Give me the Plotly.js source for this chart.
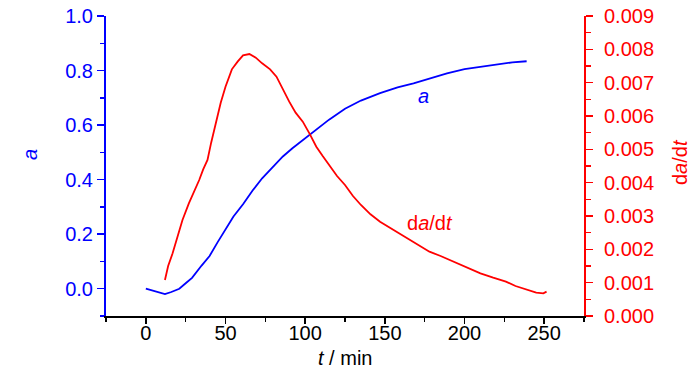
<!DOCTYPE html>
<html>
<head>
<meta charset="utf-8">
<script src="https://cdn.plot.ly/plotly-3.0.1.min.js"></script>
<style>
html,body{margin:0;padding:0;background:#fff;}
#chart{width:700px;height:374px;}
</style>
</head>
<body>
<div id="chart"></div>
<script>
// Conversion a vs time
var tA = [0, 5, 12, 16, 21, 25, 29, 35, 40, 45, 50, 55, 61, 67, 73, 80, 86, 92, 98.5, 105, 115, 125, 135, 147, 158, 168, 178, 189, 200, 210, 220, 230, 239];
var aVals = [0.0, -0.008, -0.02, -0.012, 0.0, 0.02, 0.04, 0.085, 0.12, 0.17, 0.22, 0.265, 0.31, 0.36, 0.405, 0.45, 0.485, 0.515, 0.545, 0.575, 0.62, 0.66, 0.69, 0.717, 0.738, 0.753, 0.772, 0.79, 0.805, 0.814, 0.822, 0.83, 0.834];

// Rate da/dt vs time
var tR = [12, 14, 16.8, 20, 23, 27, 30, 33.5, 36, 38.7, 41, 44, 47, 50, 54, 57.6, 61, 65, 69, 73, 78, 82, 86, 90, 94, 98.5, 103, 107, 111, 115, 120, 125, 130, 135, 141, 147, 155, 163.5, 170, 178, 185, 191, 200, 210, 218, 226, 232, 239, 245, 249.5, 251.5];
var rVals = [0.00108, 0.0015, 0.00188, 0.0024, 0.00288, 0.00338, 0.0037, 0.00408, 0.0044, 0.00468, 0.0052, 0.00578, 0.0064, 0.00688, 0.0074, 0.00763, 0.00782, 0.00786, 0.00775, 0.00758, 0.0074, 0.00718, 0.0068, 0.00643, 0.0061, 0.00583, 0.00545, 0.00508, 0.0048, 0.00453, 0.0042, 0.00393, 0.0036, 0.00333, 0.00305, 0.00283, 0.0026, 0.00233, 0.00215, 0.00193, 0.0018, 0.00168, 0.0015, 0.00128, 0.00115, 0.00103, 0.0009, 0.00078, 0.0007, 0.00068, 0.00073];

var FONT = '"Liberation Sans", Arial, sans-serif';
var FS = 20;
var BLUE = '#0000ff', RED = '#ff0000';

var traces = [
  {x: tA, y: aVals, type: 'scatter', mode: 'lines', line: {color: BLUE, width: 1.8}, yaxis: 'y', hoverinfo: 'skip'},
  {x: tR, y: rVals, type: 'scatter', mode: 'lines', line: {color: RED, width: 1.8}, yaxis: 'y2', hoverinfo: 'skip'}
];

var layout = {
  width: 700, height: 374,
  margin: {l: 106, r: 116, t: 16, b: 58},
  paper_bgcolor: '#fff', plot_bgcolor: '#fff',
  showlegend: false,
  font: {family: FONT, size: FS},
  xaxis: {
    range: [-25, 275], tick0: 0, dtick: 50, showgrid: false, zeroline: false,
    showline: true, linecolor: '#000', linewidth: 2,
    ticks: 'outside', ticklen: 6, tickwidth: 1.5, tickcolor: '#000',
    minor: {dtick: 25, ticks: 'outside', ticklen: 4, tickwidth: 1.5, tickcolor: '#000', showgrid: false},
    tickfont: {family: FONT, size: FS, color: '#000'},
    ticklabelstandoff: -8
  },
  yaxis: {
    range: [-0.1, 1.0], tick0: 0, dtick: 0.2, tickformat: '.1f', showgrid: false, zeroline: false,
    showline: true, linecolor: BLUE, linewidth: 2,
    ticks: 'outside', ticklen: 7, tickwidth: 1.5, tickcolor: BLUE,
    minor: {dtick: 0.1, ticks: 'outside', ticklen: 4, tickwidth: 1.5, tickcolor: BLUE, showgrid: false},
    tickfont: {family: FONT, size: FS, color: BLUE}
  },
  yaxis2: {
    overlaying: 'y', side: 'right', anchor: 'x',
    range: [0, 0.009], tick0: 0, dtick: 0.001, tickformat: '.3f', showgrid: false, zeroline: false,
    showline: true, linecolor: RED, linewidth: 2,
    ticks: 'outside', ticklen: 7, tickwidth: 1.5, tickcolor: RED,
    minor: {dtick: 0.0005, ticks: 'outside', ticklen: 5, tickwidth: 1.5, tickcolor: RED, showgrid: false},
    tickfont: {family: FONT, size: FS, color: RED},
    ticklabelstandoff: 7
  },
  annotations: [
    {text: '<i>a</i>', x: 30, y: 155, font: {color: BLUE}, textangle: -90},
    {text: 'd<i>a</i>/d<i>t</i>', x: 680, y: 162, font: {color: RED}, textangle: -90},
    {text: '<i>t</i> / min', x: 345, y: 358, font: {color: '#000'}},
    {text: '<i>a</i>', x: 423, y: 96, font: {color: BLUE}},
    {text: 'd<i>a</i>/d<i>t</i>', x: 430, y: 223, font: {color: RED}}
  ]
};

// convert pixel positions of annotations into paper coordinates
var pw = 700 - 106 - 116, ph = 374 - 16 - 58;
layout.annotations.forEach(function (an) {
  an.xref = 'paper'; an.yref = 'paper'; an.showarrow = false;
  an.font.family = FONT; an.font.size = FS;
  an.x = (an.x - 106) / pw;
  an.y = 1 - (an.y - 16) / ph;
  an.xanchor = 'center'; an.yanchor = 'middle';
});

Plotly.newPlot('chart', traces, layout, {staticPlot: true, displayModeBar: false});
</script>
</body>
</html>
